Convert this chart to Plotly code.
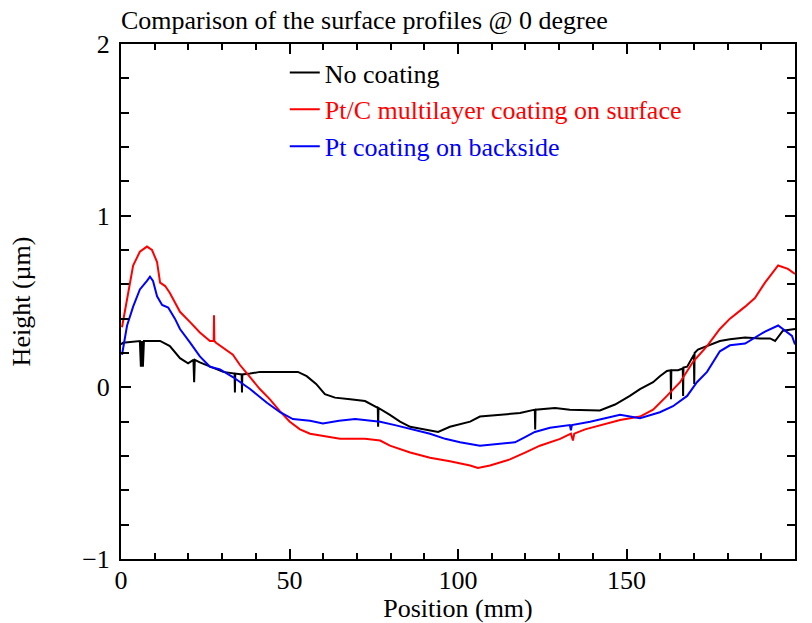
import plotly.graph_objects as go

# No coating
x_black = [0, 0.6, 5.6, 5.9, 6.2, 6.5, 6.8, 11.6, 14.5, 17.5, 19.9, 21.5, 21.7, 21.9,
           23.4, 26.4, 30.3, 33.7, 33.8, 33.9, 35.8, 35.9, 36.0, 38.3, 41.2, 45.1, 49.5, 52.5,
           55.1, 57.9, 60.5, 63.5, 68.0, 72.4, 76.2, 76.3, 76.4, 79.8, 82.8, 85.8, 91.7, 94.1,
           97.6, 103.6, 106.5, 112.5, 118.4, 122.8, 122.9, 123.0, 128.8, 133.2, 142.1, 146.6,
           151.0, 154.0, 157.9, 159.9, 162.0, 163.1, 163.2, 163.3, 165.3, 166.7, 166.8, 166.9,
           168.0, 169.8, 170.0, 170.1, 170.2, 171.2, 173.9, 177.7, 180.7, 185.2, 189.6, 192.6,
           194.1, 196.4, 200]
y_black = [0.25, 0.26, 0.27, 0.12, 0.27, 0.12, 0.27, 0.27, 0.24, 0.17, 0.14, 0.16, 0.03, 0.16,
           0.145, 0.12, 0.09, 0.08, -0.03, 0.08, 0.075, -0.03, 0.075, 0.08, 0.09, 0.09, 0.09, 0.09,
           0.065, 0.02, -0.04, -0.06, -0.07, -0.08, -0.12, -0.23, -0.12, -0.16, -0.2, -0.23, -0.25, -0.26,
           -0.23, -0.2, -0.17, -0.16, -0.15, -0.13, -0.245, -0.13, -0.12, -0.13, -0.135, -0.1,
           -0.05, -0.01, 0.03, 0.065, 0.095, 0.1, -0.07, 0.1, 0.1, 0.11, -0.05, 0.115,
           0.12, 0.19, 0.19, 0.02, 0.2, 0.22, 0.24, 0.27, 0.28, 0.29, 0.285, 0.285,
           0.27, 0.33, 0.34]

# Pt/C multilayer coating on surface
x_red = [0.3, 1.8, 3.6, 5.6, 7.7, 9.2, 10.7, 11.6, 13.1, 14.5, 17.5, 20.5, 23.4, 26.4, 27.5,
         27.6, 27.7, 28.2, 31.2, 33.2, 35.3, 38.3, 41.2, 44.2, 47.2, 50.1, 53.1, 56.1, 61.4, 65.0,
         72.4, 76.9, 79.8, 85.8, 91.7, 97.6, 103.6, 105.9, 109.5, 115.4, 119.9, 124.3, 130.3,
         133.5, 134.1, 134.5, 137.7, 142.1, 148.1, 154.0, 157.9, 162.0, 165.9, 169.8, 173.9,
         177.7, 180.7, 185.2, 188.1, 191.1, 195.0, 197.9, 200]
y_red = [0.35, 0.51, 0.71, 0.79, 0.82, 0.8, 0.73, 0.61, 0.59, 0.55, 0.44, 0.38, 0.32, 0.27, 0.27,
         0.42, 0.27, 0.26, 0.22, 0.19, 0.13, 0.06, -0.01, -0.07, -0.14, -0.2, -0.245, -0.27, -0.29, -0.3,
         -0.3, -0.31, -0.34, -0.38, -0.41, -0.43, -0.455, -0.47, -0.455, -0.42, -0.38, -0.34, -0.3,
         -0.27, -0.31, -0.27, -0.245, -0.22, -0.19, -0.17, -0.13, -0.05, 0.03, 0.15, 0.24,
         0.34, 0.4, 0.47, 0.52, 0.61, 0.71, 0.69, 0.66]

# Pt coating on backside
x_blue = [0.3, 1.8, 3.6, 5.6, 7.7, 8.6, 9.5, 10.7, 12.2, 14.0, 16.0, 17.5, 20.5, 23.4, 26.4,
          29.4, 33.2, 38.3, 43.3, 47.2, 51.0, 56.1, 59.9, 64.7, 69.5, 76.9, 81.3, 85.8,
          91.7, 96.2, 100.6, 106.5, 112.5, 116.9, 119.9, 122.8, 127.3, 133.2, 133.5, 133.8, 139.2,
          143.6, 148.1, 154.0, 159.9, 163.8, 168.0, 170.9, 173.9, 177.7, 180.7, 185.2, 188.1,
          191.1, 195.0, 197.0, 199.1, 200]
y_blue = [0.19, 0.36, 0.47, 0.57, 0.62, 0.645, 0.62, 0.53, 0.48, 0.465, 0.4, 0.34, 0.26, 0.18, 0.12,
          0.105, 0.06, -0.01, -0.09, -0.145, -0.185, -0.195, -0.21, -0.195, -0.185, -0.2, -0.22, -0.24,
          -0.27, -0.3, -0.32, -0.34, -0.33, -0.32, -0.29, -0.26, -0.235, -0.22, -0.25, -0.22, -0.2,
          -0.18, -0.16, -0.18, -0.145, -0.11, -0.05, 0.03, 0.09, 0.21, 0.245, 0.255, 0.29,
          0.325, 0.36, 0.33, 0.3, 0.25]

series_names = ["No coating", "Pt/C multilayer coating on surface", "Pt coating on backside"]
series_colors = ["#000000", "#ff0000", "#0000ff"]

FONT = "Liberation Serif, Times New Roman, serif"
FS = 26

W, H = 812, 623

fig = go.Figure()
for xs, ys, name, col in zip([x_black, x_red, x_blue], [y_black, y_red, y_blue],
                             series_names, series_colors):
    fig.add_trace(go.Scatter(
        x=xs, y=ys, mode="lines", line=dict(color=col, width=2),
        name=f'<span style="color:{col}">{name}</span>'))

axis_common = dict(
    showline=True, linecolor="black", linewidth=2, mirror="allticks",
    ticks="inside", ticklen=10, tickwidth=1.5, tickcolor="black",
    showgrid=False, zeroline=False, automargin=False,
    tickfont=dict(family=FONT, size=FS, color="black"),
)

fig.update_xaxes(range=[0, 200], tickvals=[0, 50, 100, 150, 200],
                 minor=dict(dtick=10, ticks="inside", ticklen=6, tickwidth=1.5, tickcolor="black"),
                 ticklabelstandoff=-3,
                 title=dict(text="Position (mm)", font=dict(family=FONT, size=FS, color="black"),
                            standoff=7),
                 **axis_common)
fig.update_yaxes(range=[-1, 2], tickvals=[-1, 0, 1, 2],
                 minor=dict(dtick=0.2, ticks="inside", ticklen=8, tickwidth=1.5, tickcolor="black"),
                 ticklabelstandoff=4,
                 title=dict(text="Height (µm)", font=dict(family=FONT, size=FS, color="black"),
                            standoff=44),
                 **axis_common)

fig.update_layout(
    width=W, height=H,
    margin=dict(l=121, r=17, t=44, b=64, autoexpand=False),
    paper_bgcolor="white", plot_bgcolor="white",
    font=dict(family=FONT, size=FS, color="black"),
    title=dict(text="Comparison of the surface profiles @ 0 degree",
               x=121/W, xanchor="left", y=1 - 20/H, yanchor="middle",
               font=dict(family=FONT, size=FS, color="black")),
    legend=dict(x=0.243, y=0.99, xanchor="left", yanchor="top",
                bgcolor="rgba(0,0,0,0)", borderwidth=0,
                font=dict(family=FONT, size=FS), itemwidth=30,
                tracegroupgap=0),
    showlegend=True,
)

# remove the default page margin so the figure fills the window exactly
fig.write_html("out.html",
               config={"displayModeBar": False},
               post_script="document.body.style.margin='0';document.body.style.overflow='hidden';")
